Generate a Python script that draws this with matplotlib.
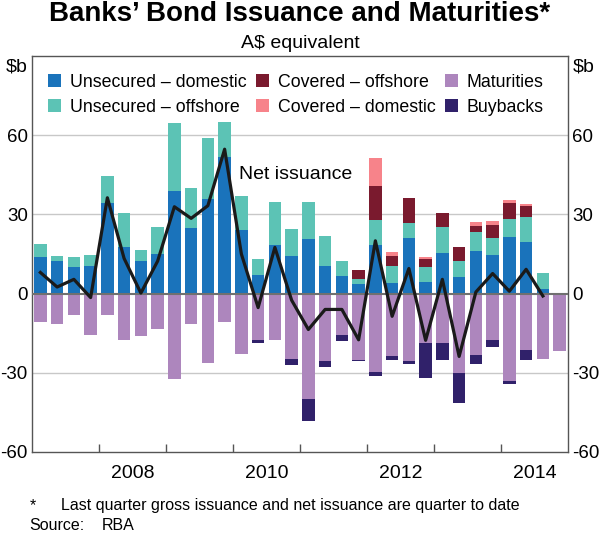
import matplotlib.pyplot as plt
import numpy as np

plt.rcParams['font.family'] = ['Liberation Sans', 'DejaVu Sans']

# quarterly, Mar 2007 to Dec 2014 ($b)
unsec_dom = [13.9, 12.3, 10.1, 10.5, 34.2, 17.8, 12.3, 14.9, 38.7, 24.9, 35.7, 51.9,
             24.0, 7.0, 18.3, 14.3, 20.5, 10.6, 6.6, 3.5, 18.3, 4.2, 20.9, 4.5,
             15.4, 6.1, 16.2, 14.7, 21.5, 19.6, 1.8, 0]
unsec_off = [4.7, 1.9, 3.7, 4.2, 10.3, 12.8, 4.1, 10.2, 26.1, 15.2, 23.3, 13.2,
             13.1, 6.0, 16.3, 10.1, 14.1, 11.3, 5.8, 2.2, 9.5, 6.3, 5.7, 5.4,
             9.7, 6.1, 7.2, 6.4, 6.7, 9.3, 6.0, 0]
cov_off = [0] * 19 + [3.1, 13.0, 3.7, 9.7, 3.1, 5.4, 5.3, 2.3, 5.0, 6.0, 4.4, 0, 0]
cov_dom = [0] * 20 + [10.5, 1.7, 0, 0.9, 0, 0, 1.4, 1.4, 1.1, 0.5, 0, 0]
maturities = [10.8, 11.7, 8.2, 15.7, 8.2, 17.4, 16.1, 13.3, 32.3, 11.7, 26.2, 10.8,
              22.8, 17.7, 17.4, 24.7, 39.9, 25.6, 15.5, 25.0, 29.8, 23.7, 25.7, 18.7,
              18.7, 30.0, 23.3, 17.4, 33.1, 21.2, 24.7, 21.9]
buybacks = [0] * 13 + [1.0, 0, 2.4, 8.2, 2.3, 2.6, 0.6, 1.5, 1.4, 1.0, 13.1,
                       6.3, 11.6, 3.2, 2.9, 1.1, 3.8, 0, 0]
net = [8.0, 2.5, 5.4, -1.5, 36.3, 13.3, 0.2, 12.3, 32.9, 28.5, 33.3, 54.7,
       15.0, -5.3, 17.5, -2.5, -13.6, -6.0, -6.0, -17.5, 20.0, -8.6, 9.5, -17.7,
       5.4, -23.8, 0.6, 7.6, 0.9, 9.2, -0.9]

year_ticks = [2008, 2009, 2010, 2011, 2012, 2013, 2014]
year_labels = ['2008', '2010', '2012', '2014']
yticks = [-60, -30, 0, 30, 60]

c_ud = '#1a73bb'
c_uo = '#5cc3b5'
c_co = '#7a1a2e'
c_cd = '#f7838a'
c_mat = '#ad86bd'
c_buy = '#30216a'

x = 2007 + (np.arange(len(unsec_dom)) + 0.5) / 4
w = 0.19

ud = np.array(unsec_dom)
uo = np.array(unsec_off)
co = np.array(cov_off)
cd = np.array(cov_dom)
mat = np.array(maturities)
buy = np.array(buybacks)

fig = plt.figure(figsize=(6, 5.33), dpi=100)
ax = fig.add_axes([32 / 600, 81 / 533, 536 / 600, 396 / 533])

for yv in [60, 30, -30]:
    ax.axhline(yv, color='#c8c8c8', lw=1, zorder=0)

ax.bar(x, ud, w, color=c_ud, label='Unsecured – domestic', zorder=2)
ax.bar(x, uo, w, bottom=ud, color=c_uo, label='Unsecured – offshore', zorder=2)
ax.bar(x, co, w, bottom=ud + uo, color=c_co, label='Covered – offshore', zorder=2)
ax.bar(x, cd, w, bottom=ud + uo + co, color=c_cd, label='Covered – domestic', zorder=2)
ax.bar(x, -mat, w, color=c_mat, label='Maturities', zorder=2)
ax.bar(x, -buy, w, bottom=-mat, color=c_buy, label='Buybacks', zorder=2)

ax.axhline(0, color='#707070', lw=1.5, zorder=3)
ax.plot(x[:len(net)], net, color='#1a1a1a', lw=2.3, zorder=4)
ax.text(2010.09, 43.5, 'Net issuance', fontsize=14, va='baseline', ha='left', zorder=5)

ax.set_xlim(2007, 2015)
ax.set_ylim(-60, 90)
ax.set_yticks(yticks)
ax.set_yticklabels([str(v) for v in yticks])
ax.set_xticks(year_ticks)
ax.set_xticklabels([])
ax.set_xticks([int(s) + 0.5 for s in year_labels], minor=True)
ax.set_xticklabels(year_labels, minor=True)
ax.tick_params(axis='x', which='major', direction='in', length=6, color='#555555', width=1)
ax.tick_params(axis='x', which='minor', length=0, labelsize=14, pad=9)
ax.tick_params(axis='y', length=0, labelsize=13.5, labelleft=True, labelright=True, pad=3)
for s in ax.spines.values():
    s.set_color('#555555')
    s.set_linewidth(1)

ax.text(-0.008, 0.962, '$b', transform=ax.transAxes, fontsize=14, ha='right', va='baseline')
ax.text(1.008, 0.962, '$b', transform=ax.transAxes, fontsize=14, ha='left', va='baseline')

ax.legend(ncol=3, loc='upper left', bbox_to_anchor=(0.01, 0.982), frameon=False,
          fontsize=12.8, handlelength=0.75, handleheight=0.75, handletextpad=0.5,
          columnspacing=0.5, labelspacing=0.45, borderaxespad=0.2)

fig.text(0.5, 1 - 21 / 533, 'Banks’ Bond Issuance and Maturities*', fontsize=20,
         fontweight='bold', ha='center', va='baseline')
fig.text(0.5, 1 - 47.5 / 533, 'A$ equivalent', fontsize=14, ha='center', va='baseline')
fig.text(30 / 600, 1 - 510 / 533, '*', fontsize=11.5, ha='left', va='baseline')
fig.text(61 / 600, 1 - 510 / 533, 'Last quarter gross issuance and net issuance are quarter to date',
         fontsize=11.5, ha='left', va='baseline')
fig.text(29.5 / 600, 1 - 530 / 533, 'Source:', fontsize=11.5, ha='left', va='baseline')
fig.text(102 / 600, 1 - 530 / 533, 'RBA', fontsize=11.5, ha='left', va='baseline')

fig.savefig('out.png', dpi=100)
